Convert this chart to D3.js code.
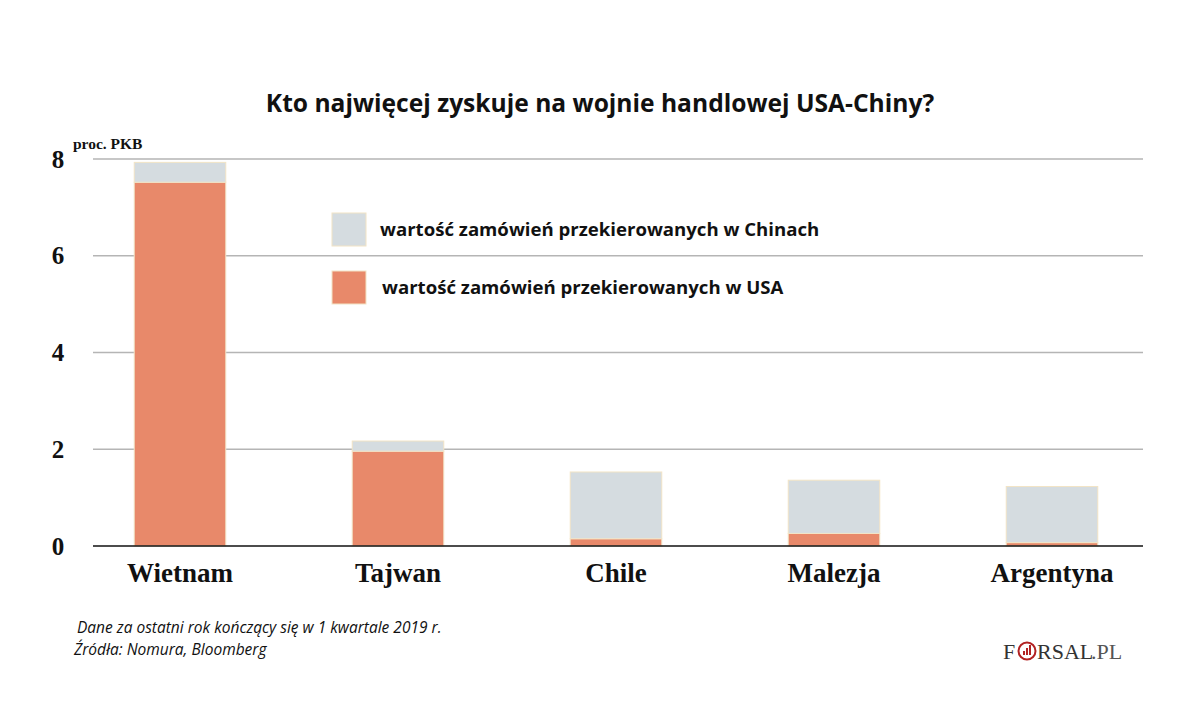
<!DOCTYPE html>
<html>
<head>
<meta charset="utf-8">
<script src="https://cdn.jsdelivr.net/npm/d3@7"></script>
<style>
  body { margin: 0; background: #fff; }
  svg { display: block; }
</style>
</head>
<body>
<svg id="chart" width="1200" height="716"></svg>
<script>
// --- dane ---
const countries = ["Wietnam", "Tajwan", "Chile", "Malezja", "Argentyna"];
const usaValues = [7.52, 1.96, 0.15, 0.26, 0.07];
const chinaValues = [0.41, 0.21, 1.38, 1.10, 1.16];
const yTicks = [0, 2, 4, 6, 8];
const seriesNames = [
  "wartość zamówień przekierowanych w Chinach",
  "wartość zamówień przekierowanych w USA"
];

const colUSA = "#e8896a", colChina = "#d5dce0", colEdge = "#f2e4c6";
const serif = "'Liberation Serif', 'DejaVu Serif', serif";
const sans = "'Open Sans', 'Noto Sans', sans-serif";

const svg = d3.select("#chart");

const x = d3.scaleBand().domain(countries).range([71, 1161]).paddingInner(0.58).paddingOuter(0.29);
const y = d3.scaleLinear().domain([0, 8]).range([546, 159]);

// tytuł
svg.append("text")
  .attr("x", 600).attr("y", 112)
  .attr("text-anchor", "middle")
  .attr("font-family", sans).attr("font-weight", 700).attr("font-size", 24.6)
  .attr("fill", "#111")
  .text("Kto najwięcej zyskuje na wojnie handlowej USA-Chiny?");

// siatka
svg.append("g")
  .selectAll("line")
  .data(yTicks.filter(d => d > 0))
  .join("line")
  .attr("x1", 93).attr("x2", 1143)
  .attr("y1", d => y(d)).attr("y2", d => y(d))
  .attr("stroke", "#b5b5b5").attr("stroke-width", 1.3);

// oś Y – tylko etykiety
const yAxis = svg.append("g")
  .attr("transform", "translate(64,0)")
  .call(d3.axisLeft(y).tickValues(yTicks).tickSize(0).tickPadding(0));
yAxis.select(".domain").remove();
yAxis.selectAll("text")
  .attr("font-family", serif).attr("font-weight", 700).attr("font-size", 25)
  .attr("fill", "#111").attr("text-anchor", "middle").attr("dy", "0.32em")
  .attr("x", -6);

svg.append("text")
  .attr("x", 73).attr("y", 149)
  .attr("font-family", serif).attr("font-weight", 700).attr("font-size", 15.5)
  .attr("fill", "#111")
  .text("proc. PKB");

// słupki skumulowane
const rows = countries.map((c, i) => ({ country: c, usa: usaValues[i], china: chinaValues[i] }));
const stack = d3.stack().keys(["usa", "china"])(rows);
const colors = { usa: colUSA, china: colChina };

svg.append("g")
  .selectAll("g")
  .data(stack)
  .join("g")
  .attr("fill", d => colors[d.key])
  .selectAll("rect")
  .data(d => d)
  .join("rect")
  .attr("x", d => x(d.data.country))
  .attr("width", x.bandwidth())
  .attr("y", d => y(d[1]))
  .attr("height", d => y(d[0]) - y(d[1]))
  .attr("stroke", colEdge).attr("stroke-width", 1);

// linia bazowa + etykiety kategorii
const xAxis = svg.append("g")
  .attr("transform", `translate(0,${y(0)})`)
  .call(d3.axisBottom(x).tickSize(0).tickPadding(17));
xAxis.select(".domain").remove();
xAxis.selectAll("text")
  .attr("font-family", serif).attr("font-weight", 700).attr("font-size", 27)
  .attr("fill", "#111").attr("dy", "0.71em");
svg.append("line")
  .attr("x1", 93).attr("x2", 1143)
  .attr("y1", y(0)).attr("y2", y(0))
  .attr("stroke", "#111").attr("stroke-width", 1.5);

// legenda
const legend = svg.append("g");
const legendItems = [
  { name: seriesNames[0], color: colChina, y: 213, tx: 380 },
  { name: seriesNames[1], color: colUSA, y: 271, tx: 382 }
];
legendItems.forEach(it => {
  legend.append("rect")
    .attr("x", 332).attr("y", it.y).attr("width", 34).attr("height", 33)
    .attr("fill", it.color).attr("stroke", colEdge).attr("stroke-width", 1);
  legend.append("text")
    .attr("x", it.tx).attr("y", it.y + 23)
    .attr("font-family", sans).attr("font-weight", 700).attr("font-size", 18.6)
    .attr("fill", "#111")
    .text(it.name);
});

// przypisy
svg.append("text")
  .attr("x", 77).attr("y", 633)
  .attr("font-family", sans).attr("font-style", "italic").attr("font-size", 15.5)
  .attr("fill", "#111")
  .text("Dane za ostatni rok kończący się w 1 kwartale 2019 r.");
svg.append("text")
  .attr("x", 74).attr("y", 655)
  .attr("font-family", sans).attr("font-style", "italic").attr("font-size", 15.5)
  .attr("fill", "#111")
  .text("Źródła: Nomura, Bloomberg");

// logo FORSAL.PL
const logo = svg.append("g").attr("transform", "translate(1003,659)");
logo.append("text")
  .attr("x", 0).attr("y", 0)
  .attr("font-family", serif).attr("font-size", 22).attr("fill", "#333")
  .text("F");
logo.append("circle")
  .attr("cx", 24).attr("cy", -8).attr("r", 8.5)
  .attr("fill", "none").attr("stroke", "#b22222").attr("stroke-width", 2);
[[-3, 4], [0, 7], [3, 10]].forEach(([dx, h]) => {
  logo.append("rect")
    .attr("x", 24 + dx - 1).attr("y", -4 - h).attr("width", 2).attr("height", h)
    .attr("fill", "#b22222");
});
logo.append("text")
  .attr("x", 34).attr("y", 0)
  .attr("font-family", serif).attr("font-size", 22).attr("fill", "#333")
  .text("RSAL");
logo.append("text")
  .attr("x", 88).attr("y", 0)
  .attr("font-family", serif).attr("font-size", 22).attr("fill", "#555")
  .text(".PL");
</script>
</body>
</html>
